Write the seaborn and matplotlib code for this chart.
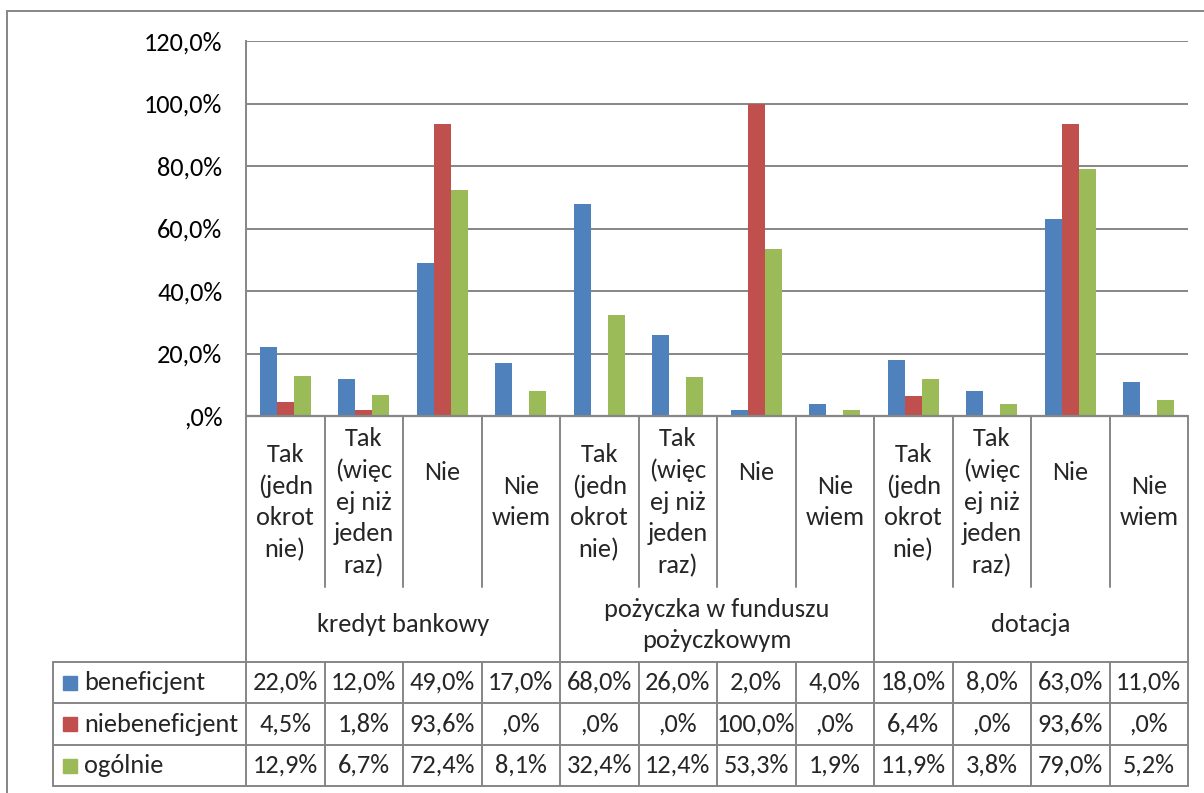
import pandas as pd
import matplotlib
matplotlib.use("Agg")
import matplotlib.pyplot as plt
import matplotlib.transforms as mtransforms
from matplotlib import font_manager
from matplotlib.patches import Rectangle
from matplotlib.lines import Line2D
from matplotlib.ticker import FuncFormatter
import seaborn as sns

# --- data ---
series = ["beneficjent", "niebeneficjent", "ogólnie"]
colors = ["#4F81BD", "#C0504D", "#9BBB59"]

answers = ["Tak\n(jedn\nokrot\nnie)", "Tak\n(więc\nej niż\njeden\nraz)", "Nie", "Nie\nwiem"]
groups = ["kredyt bankowy", "pożyczka w funduszu\npożyczkowym", "dotacja"]

beneficjent = [22.0, 12.0, 49.0, 17.0, 68.0, 26.0, 2.0, 4.0, 18.0, 8.0, 63.0, 11.0]
niebeneficjent = [4.5, 1.8, 93.6, 0.0, 0.0, 0.0, 100.0, 0.0, 6.4, 0.0, 93.6, 0.0]
ogolnie = [12.9, 6.7, 72.4, 8.1, 32.4, 12.4, 53.3, 1.9, 11.9, 3.8, 79.0, 5.2]

y_ticks = [0, 20, 40, 60, 80, 100, 120]

values = [beneficjent, niebeneficjent, ogolnie]
n_cat = len(groups) * len(answers)

rows = []
for name, vals in zip(series, values):
    for i, v in enumerate(vals):
        rows.append({"pos": i, "series": name, "value": v})
df = pd.DataFrame(rows)


def pct(v, p=None):
    s = f"{v:.1f}".replace(".", ",")
    if s.startswith("0,"):
        s = s[1:]
    return s + "%"


# --- fonts: Calibri clone if present, else Lato ---
available = {f.name for f in font_manager.fontManager.ttflist}
if "Carlito" in available:
    font, fs = "Carlito", 19
else:
    font, fs = "Lato", 17

sns.set_theme(style="white")
plt.rcParams["font.family"] = [font, "DejaVu Sans"]

W, H = 1204, 793
fig = plt.figure(figsize=(W / 100, H / 100), dpi=100)

# plot area in pixels
L, R, T, B = 246, 1188, 41, 416
ax = fig.add_axes([L / W, 1 - B / H, (R - L) / W, (B - T) / H])

sns.barplot(data=df, x="pos", y="value", hue="series", order=list(range(n_cat)),
            hue_order=series, palette=colors, width=0.65, legend=False,
            saturation=1, edgecolor="none", ax=ax)

ax.set_xlim(-0.5, n_cat - 0.5)
ax.set_ylim(0, 120)
ax.set_yticks(y_ticks)
ax.yaxis.set_major_formatter(FuncFormatter(pct))
ax.tick_params(axis="y", length=0, pad=17, labelsize=fs, colors="black")
ax.set_xticks([])
ax.set_xlabel("")
ax.set_ylabel("")
ax.grid(axis="y", color="#868686", lw=1.4)
ax.set_axisbelow(True)
for s in ["top", "right", "bottom"]:
    ax.spines[s].set_visible(False)
ax.spines["left"].set_color("#868686")
ax.spines["left"].set_linewidth(1.4)

gray = "#868686"


def ay(pix):
    # pixel row -> axes y
    return (B - pix) / (B - T)


def ax_x(pix):
    return (pix - L) / (R - L)


blend = mtransforms.blended_transform_factory(ax.transData, ax.transAxes)
axt = ax.transAxes

# horizontal axis line
ax.add_line(Line2D([0, 1], [0, 0], transform=axt, color=gray, lw=1.6, clip_on=False))

# table row lines
tab_rows = [662, 703, 745, 786]
for r in tab_rows:
    ax.add_line(Line2D([ax_x(53), 1], [ay(r)] * 2, transform=axt, color=gray, lw=1.4, clip_on=False))
ax.add_line(Line2D([ax_x(53)] * 2, [ay(662), ay(786)], transform=axt, color=gray, lw=1.4, clip_on=False))
ax.add_line(Line2D([0, 0], [0, ay(786)], transform=axt, color=gray, lw=1.4, clip_on=False))

# category separators
for i in range(1, n_cat + 1):
    x = i - 0.5
    if i % len(answers) == 0:
        ax.add_line(Line2D([x, x], [0, ay(786)], transform=blend, color=gray, lw=1.4, clip_on=False))
    else:
        ax.add_line(Line2D([x, x], [0, ay(587)], transform=blend, color=gray, lw=1.4, clip_on=False))
        ax.add_line(Line2D([x, x], [ay(662), ay(786)], transform=blend, color=gray, lw=1.4, clip_on=False))

# category labels
for i in range(n_cat):
    lab = answers[i % len(answers)]
    yc = 473 if lab == "Nie" else 502
    ax.text(i, ay(yc), lab, transform=blend, ha="center", va="center",
            fontsize=fs, linespacing=1.45, clip_on=False)

# group labels
for g, name in enumerate(groups):
    xc = g * len(answers) + (len(answers) - 1) / 2
    ax.text(xc, ay(625), name, transform=blend, ha="center", va="center",
            fontsize=fs, linespacing=1.45, clip_on=False)

# data table
for r, (name, vals, col) in enumerate(zip(series, values, colors)):
    yc = (tab_rows[r] + tab_rows[r + 1]) / 2
    ax.add_patch(Rectangle((ax_x(63), ay(yc + 7)), ax_x(77) - ax_x(63), ay(yc - 7) - ay(yc + 7),
                           transform=axt, color=col, clip_on=False))
    ax.text(ax_x(84), ay(yc), name, transform=axt, ha="left", va="center",
            fontsize=fs, clip_on=False)
    for i, v in enumerate(vals):
        ax.text(i, ay(yc), pct(v), transform=blend, ha="center", va="center",
                fontsize=fs, clip_on=False)

# outer chart border
fig.patches.append(Rectangle((7 / W, -0.1), 1.2, 1 - 11 / H + 0.1, transform=fig.transFigure,
                             fill=False, edgecolor=gray, lw=1.4))

fig.savefig("out.png", dpi=100)
